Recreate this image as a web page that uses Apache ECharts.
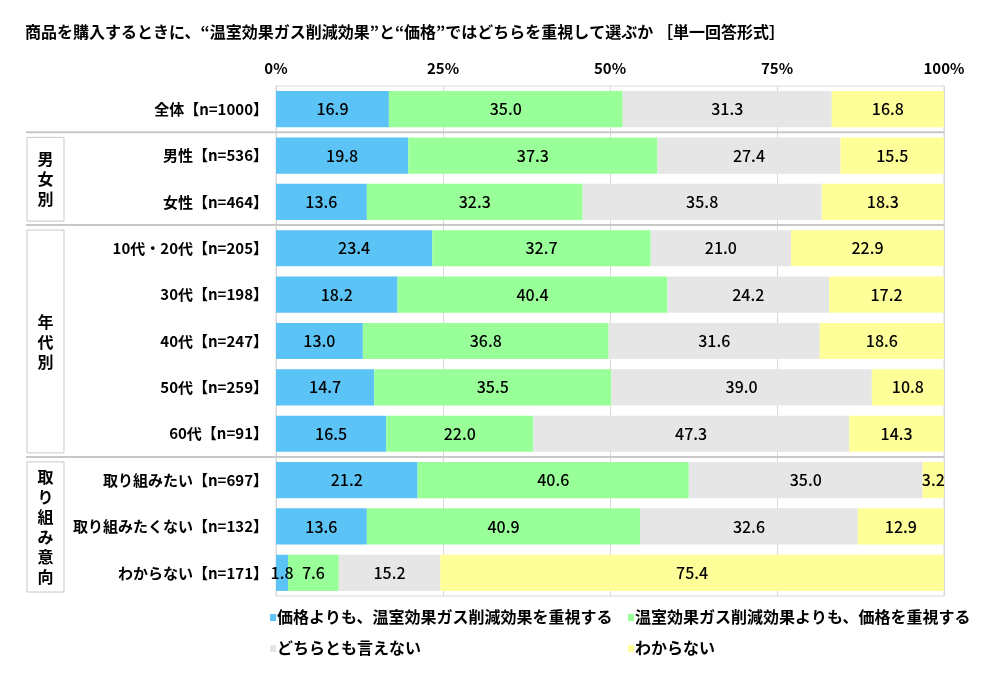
<!DOCTYPE html>
<html>
<head>
<meta charset="utf-8">
<script src="https://cdn.jsdelivr.net/npm/echarts@6/dist/echarts.min.js"></script>
<style>
  html, body { margin: 0; padding: 0; background: #fff; }
  #chart { width: 993px; height: 682px; }
</style>
</head>
<body>
<div id="chart"></div>
<script>
const categories = [
  '全体【n=1000】',
  '男性【n=536】',
  '女性【n=464】',
  '10代・20代【n=205】',
  '30代【n=198】',
  '40代【n=247】',
  '50代【n=259】',
  '60代【n=91】',
  '取り組みたい【n=697】',
  '取り組みたくない【n=132】',
  'わからない【n=171】'
]
const seriesNames = [
  '価格よりも、温室効果ガス削減効果を重視する',
  '温室効果ガス削減効果よりも、価格を重視する',
  'どちらとも言えない',
  'わからない'
]
const envFirst = [16.9, 19.8, 13.6, 23.4, 18.2, 13.0, 14.7, 16.5, 21.2, 13.6, 1.8]
const priceFirst = [35.0, 37.3, 32.3, 32.7, 40.4, 36.8, 35.5, 22.0, 40.6, 40.9, 7.6]
const neither = [31.3, 27.4, 35.8, 21.0, 24.2, 31.6, 39.0, 47.3, 35.0, 32.6, 15.2]
const unknown = [16.8, 15.5, 18.3, 22.9, 17.2, 18.6, 10.8, 14.3, 3.2, 12.9, 75.4]
// グループ: [ラベル, 開始行, 終了行]
const groups = [
  ['男女別', 1, 2],
  ['年代別', 3, 7],
  ['取り組み意向', 8, 10]
]
const colors = ['#5bc3f5', '#99ff99', '#e6e6e6', '#ffff99']
const FONT = '"Noto Sans CJK JP", sans-serif'

const chart = echarts.init(document.getElementById('chart'))

const values = [envFirst, priceFirst, neither, unknown]

let option = {
  animation: false,
  textStyle: { fontFamily: FONT },
  title: {
    text: '商品を購入するときに、“温室効果ガス削減効果”と“価格”ではどちらを重視して選ぶか ［単一回答形式］',
    left: 20,
    top: 19,
    textStyle: { fontSize: 16, fontWeight: 'bold', color: '#000', fontFamily: FONT },
  },
  legend: {
    show: false,
  },
  grid: {
    left: 276,
    right: 49,
    top: 86,
    bottom: 86,
    containLabel: false,
  },
  xAxis: {
    type: 'value',
    position: 'top',
    min: 0,
    max: 100,
    interval: 25,
    axisLine: { show: false },
    axisTick: { show: false },
    axisLabel: {
      formatter: '{value}%',
      fontSize: 15,
      fontWeight: 'bold',
      color: '#000',
      margin: 10,
      fontFamily: FONT,
    },
    splitLine: { lineStyle: { color: '#d9d9d9', width: 1 } },
  },
  yAxis: {
    type: 'category',
    inverse: true,
    data: categories,
    axisLine: { show: false },
    axisTick: { show: false },
    axisLabel: {
      fontSize: 15,
      fontWeight: 'bold',
      color: '#000',
      margin: 8,
      fontFamily: FONT,
    },
  },
  series: seriesNames.map((name, i) => ({
    name: name,
    type: 'bar',
    stack: 'total',
    barWidth: '78%',
    itemStyle: { color: colors[i] },
    label: {
      show: true,
      position: 'inside',
      color: '#000',
      fontSize: 16,
      fontWeight: 500,
      fontFamily: FONT,
      formatter: p => p.value.toFixed(1),
    },
    data: values[i],
  })),
}

chart.setOption(option, true)

// 枠線・区切り線・グループ枠・凡例をグリッド位置から描く
const rowY = i => chart.convertToPixel({ yAxisIndex: 0 }, i)
const plotLeft = chart.convertToPixel({ xAxisIndex: 0 }, 0)
const plotRight = chart.convertToPixel({ xAxisIndex: 0 }, 100)
const step = rowY(1) - rowY(0)
const plotTop = rowY(0) - step / 2
const plotBottom = rowY(categories.length - 1) + step / 2
const lineColor = '#c8c8c8'

let graphics = []
graphics.push({
  type: 'rect',
  shape: { x: plotLeft, y: plotTop, width: plotRight - plotLeft, height: plotBottom - plotTop },
  style: { fill: 'none', stroke: '#d9d9d9', lineWidth: 1 },
  z: 0,
})
groups.forEach(g => {
  const sep = rowY(g[1]) - step / 2
  graphics.push({
    type: 'line',
    shape: { x1: 26, y1: sep, x2: plotRight, y2: sep },
    style: { stroke: lineColor, lineWidth: 2 },
    z: 10,
  })
  const bTop = sep + 5
  const bBottom = rowY(g[2]) + step / 2 - 4
  graphics.push({
    type: 'rect',
    shape: { x: 27, y: bTop, width: 37, height: bBottom - bTop },
    style: { fill: '#fff', stroke: lineColor, lineWidth: 1 },
    z: 10,
  })
  graphics.push({
    type: 'text',
    x: 45.5,
    y: (bTop + bBottom) / 2,
    style: {
      text: g[0].split('').join('\n'),
      fill: '#000',
      font: 'bold 16px ' + FONT,
      align: 'center',
      verticalAlign: 'middle',
      lineHeight: 20,
    },
    z: 11,
  })
})

const legendPos = [[270, 617], [628, 617], [270, 648], [628, 648]]
seriesNames.forEach((name, i) => {
  graphics.push({
    type: 'rect',
    shape: { x: legendPos[i][0], y: legendPos[i][1] - 3, width: 6, height: 7 },
    style: { fill: colors[i] },
  })
  graphics.push({
    type: 'text',
    x: legendPos[i][0] + 7,
    y: legendPos[i][1],
    style: {
      text: name,
      fill: '#000',
      font: 'bold 16px ' + FONT,
      verticalAlign: 'middle',
    },
  })
})

chart.setOption({ graphic: graphics })
</script>
</body>
</html>
